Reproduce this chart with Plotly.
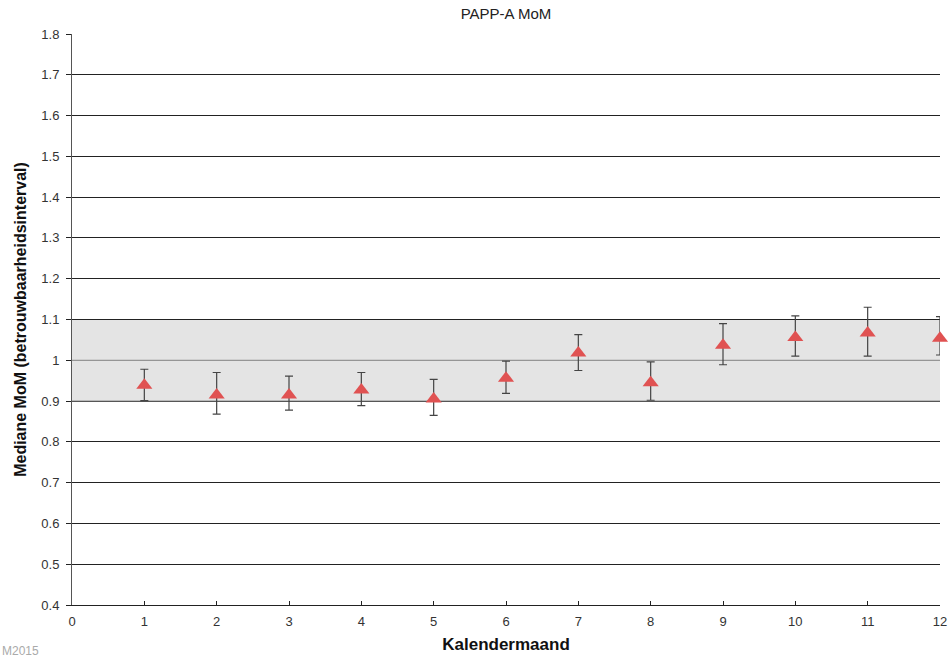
import plotly.graph_objects as go

months = [1, 2, 3, 4, 5, 6, 7, 8, 9, 10, 11, 12]
median_mom = [0.939, 0.915, 0.915, 0.927, 0.905, 0.956, 1.018, 0.945, 1.037, 1.056, 1.067, 1.054]
ci_upper = [0.978, 0.970, 0.961, 0.970, 0.953, 0.998, 1.063, 0.996, 1.090, 1.109, 1.130, 1.107]
ci_lower = [0.901, 0.868, 0.878, 0.889, 0.865, 0.919, 0.975, 0.902, 0.989, 1.010, 1.010, 1.013]
band_low, band_high = 0.9, 1.1
x_ticks = list(range(0, 13))
y_ticks = [round(0.4 + 0.1 * i, 1) for i in range(15)]

err_plus = [u - m for u, m in zip(ci_upper, median_mom)]
err_minus = [m - l for m, l in zip(median_mom, ci_lower)]

font = "Liberation Sans, Arial, sans-serif"

fig = go.Figure()
fig.add_trace(go.Scatter(
    x=months, y=median_mom, mode="markers",
    marker=dict(symbol="triangle-up", size=14, color="#e05252"),
    error_y=dict(type="data", symmetric=False, array=err_plus, arrayminus=err_minus,
                 color="#444444", thickness=1.2, width=4),
    cliponaxis=False, showlegend=False,
))

# reference band
fig.add_shape(type="rect", xref="x", yref="y", x0=0, x1=12, y0=band_low, y1=band_high,
              fillcolor="#e4e4e4", line=dict(width=0), layer="between")
fig.add_shape(type="line", xref="x", yref="y", x0=0, x1=12, y0=1.0, y1=1.0,
              line=dict(color="#808080", width=1), layer="between")
fig.add_shape(type="line", xref="x", yref="y", x0=0, x1=12, y0=band_low, y1=band_low,
              line=dict(color="#808080", width=1), layer="between")
fig.add_shape(type="line", xref="x", yref="y", x0=0, x1=12, y0=band_high, y1=band_high,
              line=dict(color="#222222", width=1), layer="between")

fig.update_layout(
    width=951, height=657,
    margin=dict(l=72, r=11, t=34, b=52, autoexpand=False),
    paper_bgcolor="white", plot_bgcolor="white",
    font=dict(family=font, size=13, color="#333333"),
    title=dict(text="PAPP-A MoM", x=(72 + 868 / 2) / 951, xanchor="center",
               y=1 - 14 / 657, yanchor="middle",
               font=dict(family=font, size=15, color="#222222")),
    xaxis=dict(range=[0, 12], tickvals=x_ticks, ticktext=[str(t) for t in x_ticks],
               showgrid=False, zeroline=False, showline=True, linecolor="#222222", linewidth=1,
               ticks="inside", ticklen=4, tickcolor="#222222", automargin=False,
               ticklabelstandoff=4,
               title=dict(text="<b>Kalendermaand</b>", standoff=10,
                          font=dict(family=font, size=17, color="#111111"))),
    yaxis=dict(range=[0.4, 1.8], tickvals=y_ticks, ticktext=[f"{v:g}" for v in y_ticks],
               showgrid=True, gridcolor="#222222", gridwidth=1, zeroline=False,
               showline=True, linecolor="#555555", linewidth=1,
               ticks="outside", ticklen=5, tickcolor="#222222", automargin=False,
               ticklabelstandoff=4,
               title=dict(text="<b>Mediane MoM (betrouwbaarheidsinterval)</b>", standoff=10,
                          font=dict(family=font, size=16, color="#111111"))),
)

fig.add_annotation(text="M2015", xref="paper", yref="paper", x=-72 / 868, y=-46 / 571,
                   xanchor="left", yanchor="middle", showarrow=False,
                   font=dict(family=font, size=12, color="#aaaaaa"))

fig.write_html("out.html")
